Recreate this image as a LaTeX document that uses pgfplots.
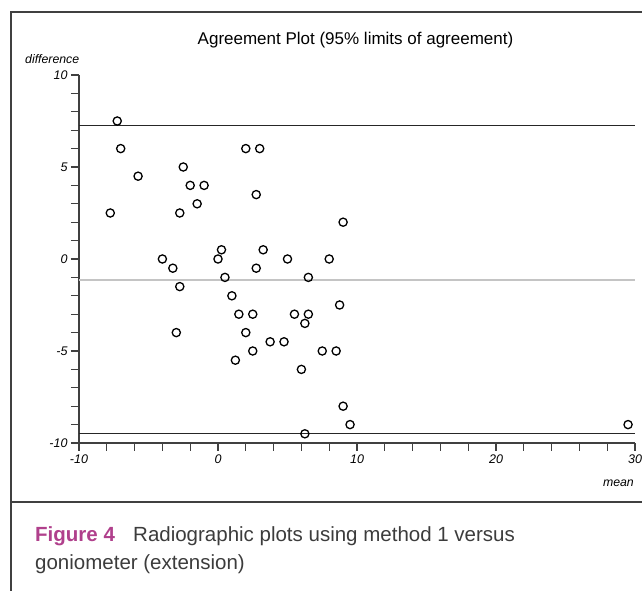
\documentclass[border=0pt]{standalone}
\usepackage{fontspec}
\setmainfont{Liberation Sans}
\usepackage{pgfplots}
\pgfplotsset{compat=1.18}
\definecolor{framegray}{HTML}{404040}
\definecolor{meangray}{HTML}{C4C4C4}
\definecolor{figmag}{HTML}{B0408C}
\definecolor{captext}{HTML}{3C3C3C}
\begin{document}
\begin{tikzpicture}
\useasboundingbox (0pt,0pt) rectangle (642pt,591pt);
\draw[framegray, line width=1.4pt] (11pt,0pt) -- (11pt,579pt) -- (642pt,579pt);
\draw[framegray, line width=1.4pt] (11pt,89pt) -- (642pt,89pt);
\node[inner sep=0pt, font=\fontsize{17}{20}\selectfont] at (355.5pt,551pt) {Agreement Plot (95\% limits of agreement)};
\node[inner sep=0pt, anchor=west, font=\fontsize{12.3}{14}\selectfont\itshape] at (25pt,532pt) {difference};
\node[inner sep=0pt, anchor=east, font=\fontsize{12.3}{14}\selectfont\itshape] at (634pt,108pt) {mean};
\begin{axis}[
  scale only axis, width=556pt, height=368pt,
  at={(79pt,148pt)}, anchor=south west,
  xmin=-10, xmax=30, ymin=-10, ymax=10,
  axis x line*=bottom, axis y line*=left,
  axis line style={-, framegray, line width=1.3pt},
  xtick={-10,0,10,20,30}, minor xtick={-8,-6,...,28},
  ytick={-10,-5,0,5,10}, minor ytick={-9,...,9},
  tick align=outside, major tick length=8pt, minor tick length=8pt,
  tick style={framegray, line width=1.1pt},
  /pgf/number format/assume math mode=true,
  ticklabel style={font=\fontsize{12.5}{14}\selectfont\itshape},
  clip=false,
]
\addplot[black!85, line width=0.9pt] coordinates {(-10,7.24) (30,7.24)};
\addplot[meangray, line width=1.8pt] coordinates {(-10,-1.125) (30,-1.125)};
\addplot[black!85, line width=0.9pt] coordinates {(-10,-9.48) (30,-9.48)};
\addplot[only marks, mark=o, mark size=4.1pt, mark options={black, line width=1.3pt, fill=white}] table {
x y
-7.25 7.5
-7.0 6.0
-5.75 4.5
-7.75 2.5
-2.5 5
-2.0 4
-1.0 4
-1.5 3
-2.75 2.5
2.0 6
3.0 6
2.75 3.5
-4.0 0
-3.25 -0.5
-2.75 -1.5
0.25 0.5
0 0
0.5 -1
1.0 -2
3.25 0.5
2.75 -0.5
5.0 0
6.5 -1
9.0 2.0
8.0 0
1.5 -3
2.5 -3
5.5 -3
6.5 -3
6.25 -3.5
-3.0 -4
2.0 -4
3.75 -4.5
4.75 -4.5
2.5 -5
1.25 -5.5
6.0 -6
6.25 -9.5
7.5 -5
8.5 -5
8.75 -2.5
9.0 -8
9.5 -9
29.5 -9
};
\end{axis}
\node[inner sep=0pt, anchor=base west, font=\fontsize{20.5}{24}\selectfont\bfseries, text=figmag] at (35pt,49pt) {Figure 4};
\node[inner sep=0pt, anchor=base west, font=\fontsize{20.5}{24}\selectfont, text=captext] at (133pt,49pt) {Radiographic plots using method 1 versus};
\node[inner sep=0pt, anchor=base west, font=\fontsize{20.5}{24}\selectfont, text=captext] at (35pt,21pt) {goniometer (extension)};
\end{tikzpicture}
\end{document}
